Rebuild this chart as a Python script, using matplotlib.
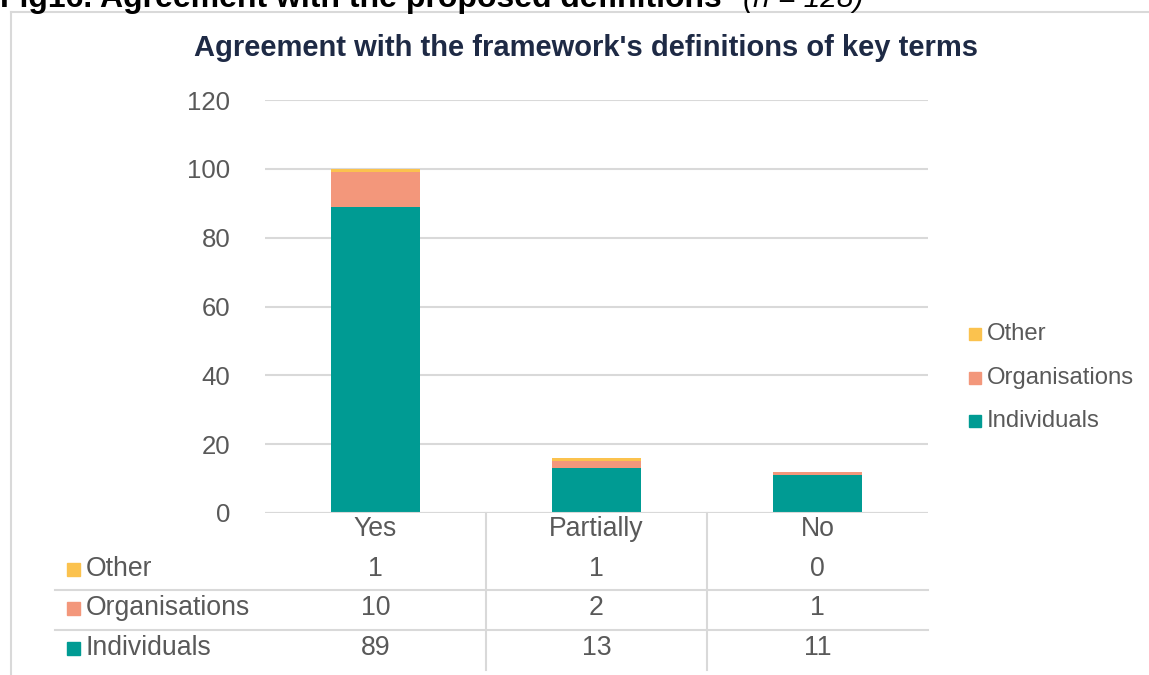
import matplotlib
matplotlib.use("Agg")
import matplotlib.pyplot as plt
import matplotlib.transforms as mtransforms
from matplotlib.lines import Line2D
from matplotlib.patches import Rectangle

plt.rcParams['font.family'] = ['Liberation Sans', 'DejaVu Sans']

categories = ["Yes", "Partially", "No"]
series_names = ["Individuals", "Organisations", "Other"]
individuals = [89, 13, 11]
organisations = [10, 2, 1]
other = [1, 1, 0]
series_values = [individuals, organisations, other]
series_colors = ["#009B93", "#F3977B", "#FBC24E"]
yticks = [0, 20, 40, 60, 80, 100, 120]

W, H = 1149, 675
fig = plt.figure(figsize=(W / 100, H / 100), dpi=100)


def fx(px):
    return px / W


def fy(py):
    return 1 - py / H


text_gray = "#595959"
grid_gray = "#D9D9D9"

# Outer frame (top and left edges visible)
fig.add_artist(Line2D([fx(11), fx(11)], [fy(12), fy(675)], color=grid_gray, lw=1.5))
fig.add_artist(Line2D([fx(11), fx(1149)], [fy(12), fy(12)], color=grid_gray, lw=1.5))

# Figure caption running along the top edge
cap = fig.text(fx(0), fy(7), "Fig16. Agreement with the proposed definitions ", fontsize=23,
               fontweight="bold", color="black", ha="left", va="baseline")
fig.text(fx(743), fy(7), "(n = 128)", fontsize=21.5, fontstyle="italic",
         color="black", ha="left", va="baseline")

# Chart title
fig.text(fx(586), fy(48), "Agreement with the framework's definitions of key terms",
         fontsize=21, fontweight="bold", color="#1E2A45", ha="center", va="center")

ax_l, ax_r, ax_t, ax_b = 265, 928, 100, 513
ax = fig.add_axes([fx(ax_l), fy(ax_b), fx(ax_r - ax_l), (ax_b - ax_t) / H])

x = list(range(len(categories)))
bottom = [0] * len(categories)
for name, vals, col in zip(series_names, series_values, series_colors):
    ax.bar(x, vals, width=0.40, bottom=bottom, color=col, label=name, zorder=3)
    bottom = [bb + v for bb, v in zip(bottom, vals)]

ax.set_xlim(-0.5, len(categories) - 0.5)
ax.set_ylim(0, 120)
ax.set_yticks(yticks)
ax.set_yticklabels([str(t) for t in yticks], fontsize=18.5, color=text_gray)
ax.tick_params(axis="y", length=0, pad=25)
ax.set_xticks([])
ax.grid(axis="y", color=grid_gray, lw=1.5, zorder=0)
for s in ax.spines.values():
    s.set_visible(False)
ax.axhline(0, color=grid_gray, lw=1.5, zorder=4)

# Legend at right (reverse stacking order)
for yy, name, col in zip([334, 378, 421], series_names[::-1], series_colors[::-1]):
    fig.add_artist(Rectangle((fx(969), fy(yy + 6)), fx(12), 12 / H, color=col))
    fig.text(fx(987), fy(yy), name, fontsize=17.2, color=text_gray, ha="left", va="center")

# Data table below the axis
tbl_font = 19.2
blend = mtransforms.blended_transform_factory(ax.transData, fig.transFigure)
for xi, cat in zip(x, categories):
    ax.text(xi, fy(529), cat, transform=blend, fontsize=tbl_font,
            color=text_gray, ha="center", va="center")

row_y = [569, 608, 648]
for yy, name, vals, col in zip(row_y, series_names[::-1], series_values[::-1], series_colors[::-1]):
    fig.add_artist(Rectangle((fx(67), fy(yy + 7)), fx(13), 13 / H, color=col))
    fig.text(fx(86), fy(yy), name, fontsize=tbl_font, color=text_gray, ha="left", va="center")
    for xi, v in zip(x, vals):
        ax.text(xi, fy(yy), str(v), transform=blend, fontsize=tbl_font,
                color=text_gray, ha="center", va="center")

# Table grid lines
for yy in [590, 630]:
    fig.add_artist(Line2D([fx(55), fx(ax_r)], [fy(yy), fy(yy)], color=grid_gray, lw=1.5))
for xi in [0.5, 1.5]:
    ax.add_artist(Line2D([xi, xi], [fy(ax_b), fy(670)], transform=blend,
                         color=grid_gray, lw=1.5, clip_on=False))

fig.savefig("out.png", dpi=100, facecolor="white")
